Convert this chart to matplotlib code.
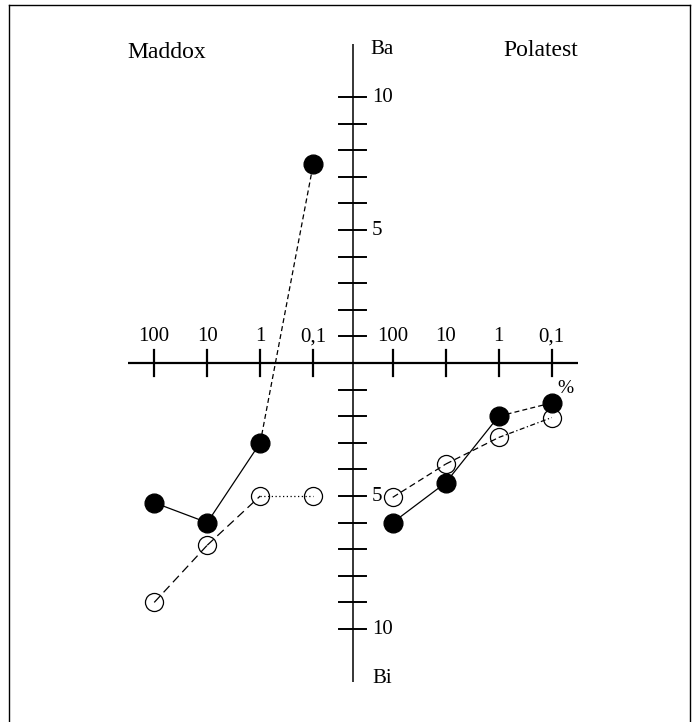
import matplotlib
matplotlib.use("Agg")
import matplotlib.pyplot as plt
from matplotlib.lines import Line2D

# ---- data (Ba positive, Bi negative) ----
categories = ['100', '10', '1', '0,1']
maddox_filled = [-5.25, -6.0, -3.0, 7.47]
maddox_open = [-9.0, -6.85, -5.0, -5.0]
polatest_filled = [-6.0, -4.5, -2.0, -1.5]
polatest_open = [-5.05, -3.8, -2.8, -2.05]
y_tick_values = [1, 2, 3, 4, 5, 6, 7, 8, 9, 10]
y_tick_labels = {5: '5', 10: '10'}

# ---- styles ----
seg_maddox_filled = ['-', '-', (0, (4, 2.5))]
seg_maddox_open = [(0, (7, 4)), (0, (7, 4)), (0, (1, 2))]
seg_polatest_filled = ['-', '-', (0, (4, 2.5))]
seg_polatest_open = [(0, (5, 3)), (0, (5, 3)), (0, (4, 2, 1, 2))]

plt.rcParams['font.family'] = ['Liberation Serif', 'DejaVu Serif']

fig = plt.figure(figsize=(6.97, 7.22), dpi=100)
ax = fig.add_axes([0, 0, 1, 1])
ax.set_xlim(-6.660, 6.491)
ax.set_ylim(-13.496, 13.647)
ax.axis('off')

n = len(categories)
x_left = [-(n - 1 - i) - 0.75 for i in range(n)]
x_right = [i + 0.75 for i in range(n)]

# axes lines
ax.plot([-4.25, 4.25], [0, 0], color='black', lw=1.6, solid_capstyle='butt')
ax.plot([0, 0], [-12.0, 12.0], color='black', lw=1.1, solid_capstyle='butt')

# x ticks and labels
for xs in (x_left, x_right):
    for xv, lab in zip(xs, categories):
        ax.plot([xv, xv], [-0.49, 0.49], color='black', lw=1.6)
        ax.text(xv, 0.98, lab, ha='center', va='center', fontsize=15)

# y ticks
for v in y_tick_values:
    for s in (1, -1):
        ax.plot([-0.26, 0.25], [s * v, s * v], color='black', lw=1.4)
        if v in y_tick_labels:
            ax.text(0.36, s * v, y_tick_labels[v], ha='left', va='center', fontsize=15)

ax.text(0.32, 11.78, 'Ba', ha='left', va='center', fontsize=15)
ax.text(0.36, -11.85, 'Bi', ha='left', va='center', fontsize=15)
ax.text(-3.51, 11.67, 'Maddox', ha='center', va='center', fontsize=17)
ax.text(3.55, 11.74, 'Polatest', ha='center', va='center', fontsize=17)
ax.text(4.0, -0.94, '%', ha='center', va='center', fontsize=14)


def draw_series(xs, ys, segs, filled):
    for i in range(len(xs) - 1):
        ax.plot(xs[i:i + 2], ys[i:i + 2], color='black', lw=0.9, linestyle=segs[i])
    if filled:
        ax.plot(xs, ys, 'o', ms=13.5, mfc='black', mec='black', ls='none', zorder=5)
    else:
        ax.plot(xs, ys, 'o', ms=13, mfc='none', mec='black', mew=0.9, ls='none', zorder=5)


draw_series(x_left, maddox_filled, seg_maddox_filled, True)
draw_series(x_left, maddox_open, seg_maddox_open, False)
draw_series(x_right, polatest_filled, seg_polatest_filled, True)
draw_series(x_right, polatest_open, seg_polatest_open, False)

# frame (left, top, right)
W, H = 697.0, 722.0
fx0, fx1, fy = 9 / W, 690 / W, 1 - 5 / H
fig.add_artist(Line2D([fx0, fx0], [0, fy], transform=fig.transFigure, color='black', lw=1.0))
fig.add_artist(Line2D([fx0, fx1], [fy, fy], transform=fig.transFigure, color='black', lw=1.0))
fig.add_artist(Line2D([fx1, fx1], [0, fy], transform=fig.transFigure, color='black', lw=1.0))

fig.savefig('out.png', dpi=100)
